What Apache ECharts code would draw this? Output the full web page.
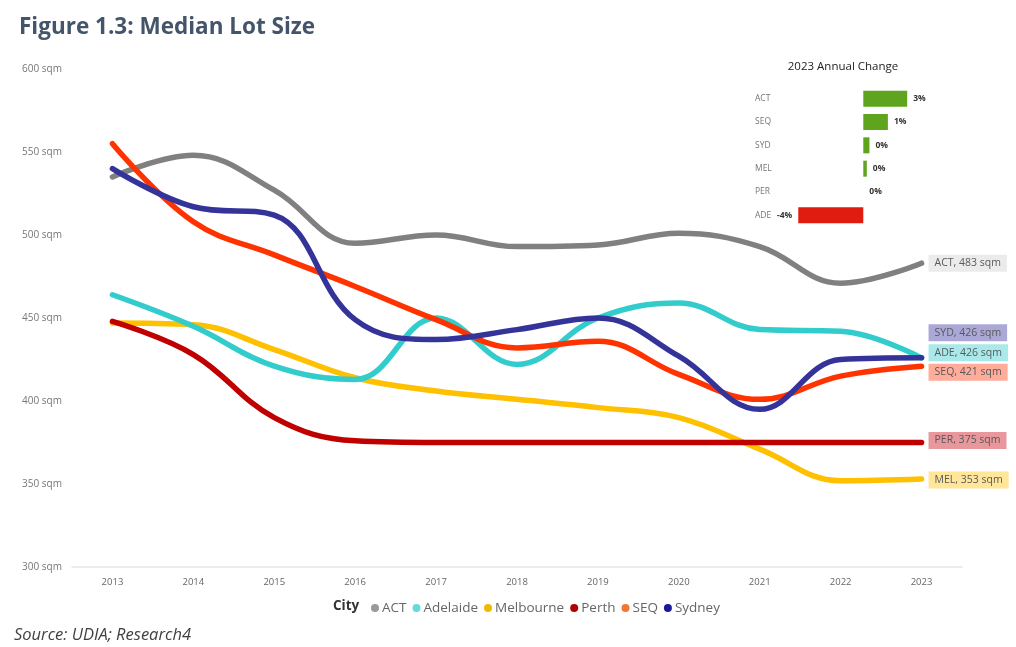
<!DOCTYPE html>
<html>
<head>
<meta charset="utf-8">
<script src="https://cdn.jsdelivr.net/npm/echarts@6/dist/echarts.min.js"></script>
<style>
html,body{margin:0;padding:0;background:#fff;}
#c{width:1016px;height:647px;}
</style>
</head>
<body>
<div id="c"></div>
<script>
const years = ['2013','2014','2015','2016','2017','2018','2019','2020','2021','2022','2023'];
const yTicks = [300, 350, 400, 450, 500, 550, 600];
const cityNames = ['ACT','Adelaide','Melbourne','Perth','SEQ','Sydney'];
const cityColors = ['#808080','#33CCCC','#FFC000','#C00000','#FF3300','#333399'];
const legendColors = ['#9A9A9A','#66D9D9','#F2B800','#B00000','#EE7733','#1A1A99'];
const act = [535, 548, 527, 495, 500, 493, 494, 501, 493, 471, 483];
const adelaide = [464, 445, 421, 413, 450, 422, 450, 459, 443, 442, 426];
const melbourne = [447, 446, 431, 414, 406, 401, 396, 390, 371, 352, 353];
const perth = [448, 428, 390, 376, 375, 375, 375, 375, 375, 375, 375];
const seq = [555, 508, 488, 469, 449, 432, 436, 416, 401, 415, 421];
const sydney = [540, 517, 512, 449, 437, 443, 450, 427, 395, 425, 426];
const endLabelShort = ['ACT','ADE','MEL','PER','SEQ','SYD'];
const endLabelBg = ['#EBEBEB','#A9E9E9','#FFE699','#E8979C','#FFAC9A','#ABA8D8'];

const changeCats = ['ACT','SEQ','SYD','MEL','PER','ADE'];
const changeVals = [2.5, 1.4, 0.35, 0.2, 0, -3.7];

const seriesData = [act, adelaide, melbourne, perth, seq, sydney];
const endOffsets = [[0,0],[0,-5],[0,1],[0,-2],[0,6],[0,-25]];

const chart = echarts.init(document.getElementById('c'));
const lineSeries = cityNames.map((n, i) => ({
  name: n,
  type: 'line',
  xAxisIndex: 0, yAxisIndex: 0,
  data: seriesData[i],
  smooth: 0.4,
  showSymbol: false,
  symbol: 'circle',
  color: cityColors[i],
  lineStyle: { width: 5.5, color: cityColors[i], cap: 'round', join: 'round' },
  z: [3,4,2,2,5,6][i],
  endLabel: {
    show: true,
    formatter: p => endLabelShort[i] + ', ' + p.value + ' sqm',
    backgroundColor: endLabelBg[i],
    color: '#595959',
    fontFamily: 'Open Sans',
    fontSize: 10.5,
    padding: [3, 6, 3, 6],
    distance: 7,
    offset: endOffsets[i]
  }
}));

const barData = changeVals.map((v, i) => ({
  value: v,
  itemStyle: { color: v < 0 ? '#E01B10' : '#5EA41E' },
  label: { position: v < 0 ? 'left' : 'right' }
}));

chart.setOption({
  animation: false,
  textStyle: { fontFamily: 'Open Sans' },
  title: [
    { text: 'Figure 1.3: Median Lot Size', left: 14, top: 11,
      textStyle: { fontFamily: 'Open Sans', fontWeight: 'bold', fontSize: 22.5, color: '#44546A' } },
    { text: '2023 Annual Change', left: 838, top: 56, textAlign: 'center',
      textStyle: { fontFamily: 'Open Sans', fontWeight: 'normal', fontSize: 11.5, color: '#222' } }
  ],
  graphic: [
    { type: 'text', left: 333, top: 599,
      style: { text: 'City', fontFamily: 'Open Sans', fontWeight: 'bold', fontSize: 13.5, fill: '#333' } },
    { type: 'text', left: 14, top: 627,
      style: { text: 'Source: UDIA; Research4', fontFamily: 'Open Sans', fontStyle: 'italic', fontSize: 16.5, fill: '#404040' } }
  ],
  legend: {
    left: 366, top: 596,
    icon: 'circle', itemWidth: 8, itemHeight: 8, itemGap: 6,
    textStyle: { fontFamily: 'Open Sans', fontSize: 13.5, color: '#666', padding: [0,0,0,-2] },
    data: cityNames.map((n, i) => ({ name: n, itemStyle: { color: legendColors[i] } }))
  },
  grid: [
    { left: 72, right: 54, top: 69, bottom: 80 },
    { left: 793, width: 123, top: 87, height: 140 }
  ],
  xAxis: [
    { type: 'category', data: years, gridIndex: 0, boundaryGap: true,
      axisLine: { show: true, lineStyle: { color: '#E6E6E6', width: 1.5 } },
      axisTick: { show: false },
      axisLabel: { color: '#666', fontFamily: 'Open Sans', fontSize: 9.5, margin: 10 } },
    { type: 'value', gridIndex: 1, min: -4, max: 3, show: false }
  ],
  yAxis: [
    { type: 'value', gridIndex: 0, min: yTicks[0], max: yTicks[yTicks.length-1], interval: 50,
      axisLine: { show: false }, axisTick: { show: false }, splitLine: { show: false },
      axisLabel: { color: '#777', fontSize: 10, align: 'left', margin: 50,
        formatter: v => v + ' sqm' } },
    { type: 'category', gridIndex: 1, data: changeCats, inverse: true,
      axisLine: { show: false }, axisTick: { show: false },
      axisLabel: { color: '#777', fontSize: 8.5, align: 'left', margin: 38 } }
  ],
  series: lineSeries.concat([{
    name: 'change', type: 'bar', xAxisIndex: 1, yAxisIndex: 1,
    data: barData, barWidth: 16,
    label: { show: true, color: '#333', fontSize: 8.5, fontWeight: 'bold', distance: 6,
      formatter: p => Math.round(p.value) + '%' },
    legendHoverLink: false
  }])
});
</script>
</body>
</html>
